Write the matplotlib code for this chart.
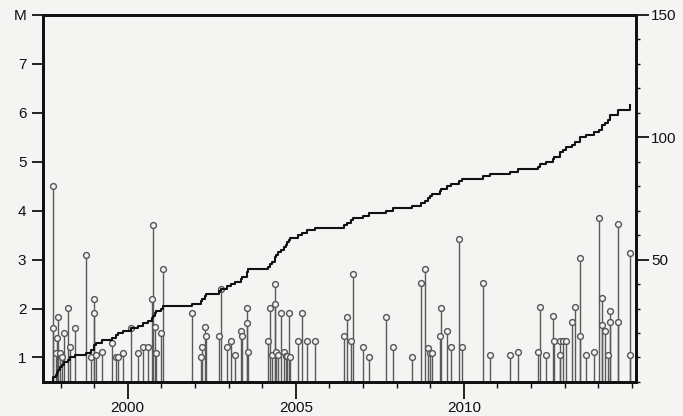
import numpy as np
import matplotlib
matplotlib.use("Agg")
import matplotlib.pyplot as plt
from matplotlib.ticker import FixedLocator, MultipleLocator

# Event origin times (decimal years) and magnitudes
event_time = [
    1997.77, 1997.78, 1997.86, 1997.89, 1997.92, 1997.98, 1998.04, 1998.10,
    1998.21, 1998.27, 1998.42, 1998.75, 1998.90, 1998.99, 1999.00, 1999.05,
    1999.23, 1999.52, 1999.64, 1999.70, 1999.85, 2000.09, 2000.30, 2000.45,
    2000.60, 2000.71, 2000.74, 2000.80, 2000.83, 2000.98, 2001.06, 2001.90,
    2002.17, 2002.20, 2002.29, 2002.32, 2002.71, 2002.77, 2002.95, 2003.07,
    2003.18, 2003.36, 2003.39, 2003.54, 2003.56, 2003.57, 2004.17, 2004.23,
    2004.29, 2004.38, 2004.39, 2004.40, 2004.46, 2004.55, 2004.64, 2004.70,
    2004.73, 2004.79, 2004.82, 2005.06, 2005.18, 2005.33, 2005.57, 2006.43,
    2006.52, 2006.64, 2006.71, 2006.99, 2007.17, 2007.68, 2007.89, 2008.45,
    2008.72, 2008.84, 2008.93, 2008.99, 2009.05, 2009.29, 2009.32, 2009.49,
    2009.61, 2009.85, 2009.94, 2010.57, 2010.77, 2011.37, 2011.61, 2012.20,
    2012.26, 2012.44, 2012.65, 2012.68, 2012.86, 2012.87, 2012.95, 2013.04,
    2013.21, 2013.30, 2013.45, 2013.47, 2013.63, 2013.87, 2014.02, 2014.11,
    2014.12, 2014.20, 2014.29, 2014.35, 2014.36, 2014.58, 2014.60, 2014.94,
    2014.96,
]
magnitude = [
    4.50, 1.60, 1.10, 1.40, 1.82, 1.10, 1.00, 1.50,
    2.02, 1.22, 1.60, 3.10, 1.00, 1.90, 2.20, 1.05,
    1.12, 1.30, 1.00, 1.00, 1.10, 1.60, 1.10, 1.22,
    1.22, 2.20, 3.70, 1.63, 1.10, 1.50, 2.80, 1.90,
    1.00, 1.22, 1.63, 1.43, 1.43, 2.40, 1.22, 1.33,
    1.05, 1.53, 1.43, 2.02, 1.70, 1.12, 1.33, 2.02,
    1.05, 2.50, 2.10, 1.12, 1.05, 1.90, 1.12, 1.02,
    1.02, 1.90, 1.00, 1.33, 1.90, 1.33, 1.33, 1.43,
    1.82, 1.33, 2.70, 1.22, 1.00, 1.82, 1.22, 1.00,
    2.53, 2.80, 1.20, 1.10, 1.10, 1.43, 2.02, 1.53,
    1.22, 3.43, 1.22, 2.53, 1.04, 1.04, 1.12, 1.12,
    2.04, 1.04, 1.84, 1.33, 1.33, 1.04, 1.33, 1.33,
    1.72, 2.04, 3.04, 1.43, 1.04, 1.12, 3.84, 2.22,
    1.67, 1.53, 1.04, 1.94, 1.73, 3.73, 1.73, 3.14,
    1.04,
]

mag_ticks = [1, 2, 3, 4, 5, 6, 7, 8]
mag_labels = ["1", "2", "3", "4", "5", "6", "7", "M"]
count_ticks = [50, 100, 150]
year_ticks = [2000, 2005, 2010]

t = np.asarray(event_time)
m = np.asarray(magnitude)
cum = np.arange(1, len(t) + 1)

bg = "#f4f4f2"
plt.rcParams["font.family"] = ["Liberation Sans", "DejaVu Sans"]

fig = plt.figure(figsize=(6.83, 4.16), dpi=100, facecolor=bg)
ax = fig.add_axes([0.063, 0.082, 0.868, 0.882], facecolor=bg)
ax2 = ax.twinx()

m_low = 0.5
ax.set_xlim(1997.48, 2015.12)
ax.set_ylim(m_low, 8.0)
ax2.set_ylim(0, 150)

# magnitude stems with open circle heads
ax.vlines(t, m_low, m, colors="#5a5a5a", linewidth=1.0, zorder=2)
ax.plot(t, m, "o", ms=4.2, mfc=bg, mec="#555555", mew=1.0, zorder=3,
        clip_on=False)

# cumulative number of events
ax2.step(np.concatenate([[t[0]], t]), np.concatenate([[0], cum]),
         where="post", color="#111111", linewidth=1.5, zorder=4)
ax2.set_zorder(ax.get_zorder() + 1)
ax2.patch.set_visible(False)

for a in (ax, ax2):
    for s in a.spines.values():
        s.set_linewidth(2.0)
        s.set_color("#111111")

ax.yaxis.set_major_locator(FixedLocator(mag_ticks))
ax.set_yticklabels(mag_labels)
ax.tick_params(axis="y", direction="out", length=8, width=1.3,
               labelsize=11, pad=4, colors="#111111")

ax.xaxis.set_major_locator(FixedLocator(year_ticks))
ax.xaxis.set_minor_locator(MultipleLocator(1))
ax.set_xticklabels([str(y) for y in year_ticks])
ax.tick_params(axis="x", which="major", direction="out", length=12,
               width=1.3, labelsize=11, pad=2, colors="#111111")
ax.tick_params(axis="x", which="minor", direction="out", length=4,
               width=1.0, colors="#111111")

ax2.yaxis.set_major_locator(FixedLocator(count_ticks))
ax2.yaxis.set_minor_locator(MultipleLocator(10))
ax2.tick_params(axis="y", which="major", direction="out", length=9,
                width=1.3, labelsize=11, pad=2, colors="#111111")
ax2.tick_params(axis="y", which="minor", direction="out", length=3,
                width=1.0, colors="#111111")

fig.savefig("out.png", dpi=100, facecolor=bg)
